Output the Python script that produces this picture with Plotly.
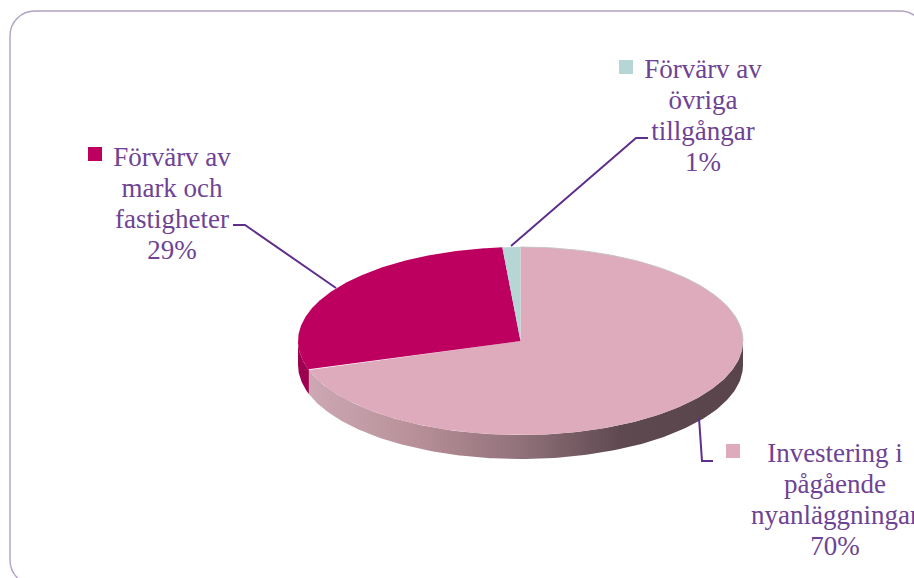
import numpy as np
import plotly.graph_objects as go

# Data
categories = ["Investering i pågående nyanläggningar", "Förvärv av mark och fastigheter", "Förvärv av övriga tillgångar"]
values = [70.0, 28.7, 1.3]
colors = ["#DDABBC", "#BD0060", "#B5D6D5"]
label_lines = [["Investering i", "pågående", "nyanläggningar"],
               ["Förvärv av", "mark och", "fastigheter"],
               ["Förvärv av", "övriga", "tillgångar"]]
label_x = [835, 172, 703]
label_top_y = [455, 159, 71]
key_x = [733, 95, 626]
key_y = [451, 154, 67]
leader_x = [[699, 702, 713], [336, 245, 233], [511, 636, 648]]
leader_y = [[418, 461, 461], [288, 225, 225], [246, 138, 138]]

# Geometry of the tilted pie (axis units equal pixels)
CX, CY, RX, RY, DEPTH = 520.5, 341, 222.5, 94, 24
TEXT = "#6E4394"
LINE_H = 31


def ell(t):
    return CX + RX * np.sin(t), CY - RY * np.cos(t)


fig = go.Figure()
edges = np.radians(np.cumsum([0] + values) * 3.6)

# Side wall: visible from the right edge, round the bottom, to the left edge
split = edges[1]
t = np.linspace(np.pi / 2, split, 160)
x, y = ell(t)
fig.add_trace(go.Scatter(
    x=np.r_[x, x[::-1]], y=np.r_[y, y[::-1] + DEPTH], mode="lines", line_width=0,
    fill="toself", hoverinfo="skip", showlegend=False,
    fillgradient=dict(type="horizontal", start=305, stop=743, colorscale=[
        [0, "#CDA9B5"], [0.25, "#B89099"], [0.5, "#8F7079"], [0.72, "#5F4950"], [1, "#5A444C"]])))
t = np.linspace(split, 3 * np.pi / 2, 40)
x, y = ell(t)
fig.add_trace(go.Scatter(
    x=np.r_[x, x[::-1]], y=np.r_[y, y[::-1] + DEPTH], mode="lines", line_width=0,
    fill="toself", fillcolor="#9E0050", hoverinfo="skip", showlegend=False))

# Top face wedges
for i in range(len(values)):
    t = np.linspace(edges[i], edges[i + 1], 240)
    x, y = ell(t)
    fig.add_trace(go.Scatter(
        x=np.r_[CX, x, CX], y=np.r_[CY, y, CY], mode="lines", line_width=0,
        fill="toself", fillcolor=colors[i], name=categories[i], showlegend=False,
        hovertemplate=categories[i] + ": %{customdata}%<extra></extra>",
        customdata=[round(values[i])] * (len(t) + 2)))

# Thin rim highlight along the upper-right top edge
t = np.linspace(0, np.pi / 2, 80)
x, y = ell(t)
fig.add_trace(go.Scatter(x=x, y=y, mode="lines", line=dict(color="#C9C3C6", width=1),
                         hoverinfo="skip", showlegend=False))

# Leaders, keys, labels
for i in range(len(values)):
    fig.add_trace(go.Scatter(x=leader_x[i], y=leader_y[i], mode="lines",
                             line=dict(color="#5F2F8C", width=2), hoverinfo="skip", showlegend=False))
    fig.add_trace(go.Scatter(x=[key_x[i]], y=[key_y[i]], mode="markers",
                             marker=dict(symbol="square", size=14, color=colors[i], line_width=0),
                             hoverinfo="skip", showlegend=False))
    lines = label_lines[i] + [f"{round(values[i])}%"]
    fig.add_trace(go.Scatter(
        x=[label_x[i]] * len(lines),
        y=[label_top_y[i] + LINE_H * j for j in range(len(lines))],
        mode="text", text=lines, textposition="middle center", cliponaxis=False,
        textfont=dict(family="Liberation Serif", size=27, color=TEXT),
        hoverinfo="skip", showlegend=False))

fig.update_layout(
    width=914, height=578, margin=dict(l=0, r=0, t=0, b=0, pad=0),
    paper_bgcolor="white", plot_bgcolor="white", showlegend=False,
    xaxis=dict(range=[0, 914], visible=False, fixedrange=True),
    yaxis=dict(range=[578, 0], visible=False, fixedrange=True),
    shapes=[dict(type="path", layer="below", xref="x", yref="y",
                 path="M 10 558 L 10 36 C 10 22 21 11 35 11 L 900 11 C 914 11 925 22 925 36 L 925 560 "
                      "C 925 574 914 585 900 585 L 35 585 C 21 585 10 574 10 560 Z",
                 line=dict(color="#B0A2C0", width=1.4))],
)
fig.write_html("out.html", config={"displayModeBar": False},
               post_script="document.body.style.margin='0';document.documentElement.style.overflow='hidden';")
